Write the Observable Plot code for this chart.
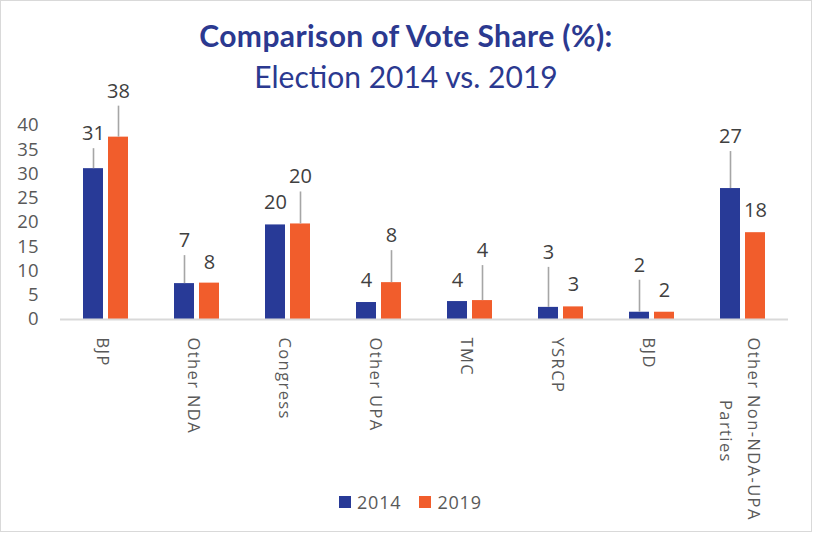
<!DOCTYPE html>
<html>
<head>
<meta charset="utf-8">
<script src="https://cdn.jsdelivr.net/npm/d3@7"></script>
<script src="https://cdn.jsdelivr.net/npm/@observablehq/plot@0.6"></script>
<style>
  html, body { margin: 0; padding: 0; background: #fff; }
  body { position: relative; width: 814px; height: 533px; overflow: hidden; font-family: "Open Sans", sans-serif; }
  #frame { position: absolute; left: 0; top: 0; width: 812px; height: 532px; box-sizing: border-box; border: 1.5px solid #d9d9d9; }
  .title { position: absolute; left: 0; width: 812px; text-align: center; color: #2b3990; font-family: Lato, sans-serif; white-space: nowrap; line-height: 1.2; z-index: 2; }
  #t1 { top: 17px; font-size: 30px; font-weight: 700; letter-spacing: 0.4px; }
  #t2 { top: 58px; font-size: 30px; font-weight: 400; }
  #chart { position: absolute; left: 0; top: 0; }
  #legend { position: absolute; left: 339px; top: 490px; display: flex; align-items: center; font-size: 18px; color: #595959; letter-spacing: 0.8px; }
  #legend .sw { width: 12px; height: 12px; display: inline-block; margin-right: 6px; }
  #legend .item { display: flex; align-items: center; margin-right: 18px; }
  #chart g[aria-label="fx-axis tick label"] text { letter-spacing: 1.4px; }
</style>
</head>
<body>
<div id="frame"></div>
<div id="chart"></div>
<div class="title" id="t1">Comparison of Vote Share (%):</div>
<div class="title" id="t2">Election 2014 vs. 2019</div>
<div id="legend"></div>
<script>
// ---- data ----
const parties = ["BJP", "Other NDA", "Congress", "Other UPA", "TMC", "YSRCP", "BJD", "Other Non-NDA-UPA Parties"];
const NB = "\u00a0".repeat(11); // centres the wrapped second line under the first, as in the original
const partyLabels = ["BJP", "Other NDA", "Congress", "Other UPA", "TMC", "YSRCP", "BJD", "Other Non-NDA-UPA\n" + NB + "Parties"];
const years = [2014, 2019];
const share2014 = [31.1, 7.4, 19.5, 3.5, 3.7, 2.5, 1.5, 27.0];
const share2019 = [37.6, 7.5, 19.7, 7.6, 3.9, 2.6, 1.5, 17.9];
const yTicks = [0, 5, 10, 15, 20, 25, 30, 35, 40];

// ---- label layout (pixels above bar top, as placed in the original) ----
const lift2014 = [35, 43, 22, 22, 21, 55, 47, 52];
const lift2019 = [46, 21, 47, 47, 50, 22, 22, 22];

const colors = {2014: "#283a97", 2019: "#f15d2c"};

const W = 814, H = 533, mTop = 125, mBottom = 214, mLeft = 59, mRight = 25;
const ppu = (H - mTop - mBottom) / 40;

const rows = [];
parties.forEach((p, i) => {
  [[2014, share2014[i], lift2014[i]], [2019, share2019[i], lift2019[i]]].forEach(([yr, v, lift]) => {
    rows.push({party: p, year: yr, value: v, label: String(Math.round(v)),
      labelY: v + lift / ppu, leader: lift > 30, leaderTop: v + (lift - 15) / ppu});
  });
});

const chart = Plot.plot({
  width: W, height: H,
  marginTop: mTop, marginBottom: mBottom, marginLeft: mLeft, marginRight: mRight,
  style: {fontFamily: "Open Sans, sans-serif", color: "#595959", background: "transparent"},
  fx: {domain: parties, padding: 0, label: null},
  x: {domain: years, paddingInner: 0.19, paddingOuter: 0.85, axis: null},
  y: {domain: [0, 40], label: null},
  color: {domain: years, range: years.map(y => colors[y])},
  marks: [
    Plot.barY(rows, {fx: "party", x: "year", y: "value", fill: "year"}),
    Plot.ruleY([0], {stroke: "#d9d9d9", strokeWidth: 2}),
    Plot.ruleX(rows.filter(d => d.leader), {fx: "party", x: "year", y1: "value", y2: "leaderTop", stroke: "#a6a6a6", strokeWidth: 1.6}),
    Plot.text(rows, {fx: "party", x: "year", y: "labelY", text: "label", fill: "#404040", fontSize: 20, lineAnchor: "middle", textAnchor: "middle"}),
    Plot.axisY({ticks: yTicks, tickSize: 0, tickPadding: 22, fontSize: 18.5, label: null, fill: "#595959"}),
    Plot.axisFx({anchor: "bottom", tickSize: 0, tickPadding: 18, rotate: 90, textAnchor: "start", lineAnchor: "middle",
      lineHeight: 1.7, dx: 0, fontSize: 16.5, fill: "#595959", label: null,
      tickFormat: d => partyLabels[parties.indexOf(d)]})
  ]
});
document.getElementById("chart").appendChild(chart);

const legend = document.getElementById("legend");
years.forEach(y => {
  const it = document.createElement("span");
  it.className = "item";
  it.innerHTML = `<span class="sw" style="background:${colors[y]}"></span><span>${y}</span>`;
  legend.appendChild(it);
});
</script>
</body>
</html>
